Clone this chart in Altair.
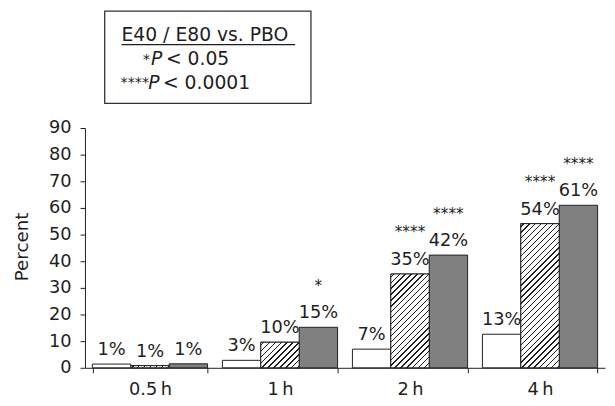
import altair as alt
import pandas as pd

# ---------------- data ----------------
times = ["0.5\u2009h", "1\u2009h", "2\u2009h", "4\u2009h"]
groups = ["PBO", "E40", "E80"]
pbo_values = [1.4, 2.8, 7.0, 12.6]
e40_values = [0.8, 9.6, 35.2, 54.1]
e80_values = [1.5, 15.2, 42.3, 61.0]
pbo_labels = ["1%", "3%", "7%", "13%"]
e40_labels = ["1%", "10%", "35%", "54%"]
e80_labels = ["1%", "15%", "42%", "61%"]
pbo_sig = ["", "", "", ""]
e40_sig = ["", "", "****", "****"]
e80_sig = ["", "*", "****", "****"]
y_ticks = [0, 10, 20, 30, 40, 50, 60, 70, 80, 90]
legend_title = "E40 / E80 vs. PBO"
legend_stars = ["*", "****"]
legend_p = ["P", "P"]
legend_thresholds = ["< 0.05", "< 0.0001"]

rows = []
for g, vals, labs, sigs in [
    ("PBO", pbo_values, pbo_labels, pbo_sig),
    ("E40", e40_values, e40_labels, e40_sig),
    ("E80", e80_values, e80_labels, e80_sig),
]:
    for t, v, l, s in zip(times, vals, labs, sigs):
        rows.append({"time": t, "group": g, "value": v, "label": l, "sig": s})
df = pd.DataFrame(rows)

# ---------------- layout / style ----------------
W, H = 527, 243
Y_MAX = 90
PAD_IN, PAD_OUT = 0.114, 0.057
FONT = "DejaVu Sans"
INK = "#1e1e1e"
GRAY = "#808080"

step = W / (len(times) - PAD_IN + 2 * PAD_OUT)
bar_w = step * (1 - PAD_IN) / len(groups)


def hatch(w, h, period=6.0, lw=1.35):
    """Diagonal '/' hatching as a striped linear gradient (45 degrees on screen)."""
    h = max(h, 0.5)
    total = w + h
    t = total / (w * w + h * h)
    stops = []
    k = 0
    while True:
        c = (k * period + period / 2) / total
        a = max(0.0, c - lw / 2 / total)
        b = min(1.0, c + lw / 2 / total)
        if a >= 1:
            break
        stops += [
            {"offset": round(a, 5), "color": "white"},
            {"offset": round(a, 5), "color": INK},
            {"offset": round(b, 5), "color": INK},
            {"offset": round(b, 5), "color": "white"},
        ]
        k += 1
    return {"gradient": "linear", "x1": 0, "y1": 0,
            "x2": round(w * t, 5), "y2": round(h * t, 5), "stops": stops}


x_enc = alt.X(
    "time:N",
    sort=times,
    scale=alt.Scale(domain=times, paddingInner=PAD_IN, paddingOuter=PAD_OUT),
    axis=alt.Axis(title=None, labelAngle=0, tickBand="extent", tickSize=5,
                  labelPadding=8, labelFontSize=18),
)
xo_enc = alt.XOffset("group:N", sort=groups,
                     scale=alt.Scale(domain=groups, paddingInner=0, paddingOuter=0))
y_enc = alt.Y(
    "value:Q",
    scale=alt.Scale(domain=[0, Y_MAX], nice=False, zero=True),
    axis=alt.Axis(values=y_ticks, title="Percent", tickSize=5, labelPadding=9,
                  labelFontSize=18, titleFontSize=18.5, titleFontWeight="normal",
                  titleAngle=-90, titleX=-64, titleY=120, titleAlign="center",
                  titleBaseline="middle"),
)

base = alt.Chart(df)

bars = base.mark_bar(stroke=INK, strokeWidth=1).encode(
    x=x_enc, xOffset=xo_enc, y=y_enc,
    fill=alt.Fill("group:N", scale=alt.Scale(domain=groups, range=["white", "white", GRAY]),
                  legend=None),
)

hatch_layers = []
for t, v in zip(times, e40_values):
    hatch_layers.append(
        base.transform_filter(
            (alt.datum.group == "E40") & (alt.datum.time == t)
        ).mark_bar(stroke=INK, strokeWidth=1, fill=hatch(bar_w, v * H / Y_MAX)).encode(
            x=x_enc, xOffset=xo_enc, y=y_enc
        )
    )

labels = base.mark_text(font=FONT, fontSize=18, dy=-9, baseline="alphabetic",
                        color=INK).encode(x=x_enc, xOffset=xo_enc, y=y_enc, text="label:N")
stars = base.mark_text(font=FONT, fontSize=15.5, dy=-37, baseline="alphabetic",
                       color=INK).encode(x=x_enc, xOffset=xo_enc, y=y_enc, text="sig:N")

# ---------------- significance key box ----------------
key_df = pd.DataFrame({"k": [0]})
key = alt.Chart(key_df)
box = key.mark_rect(fill=None, stroke="#333333", strokeWidth=1.3).encode(
    x=alt.value(20), x2=alt.value(229), y=alt.value(-118.5), y2=alt.value(-25))
k_title = key.mark_text(font=FONT, fontSize=19, align="left", baseline="alphabetic",
                        color=INK).encode(x=alt.value(37), y=alt.value(-88),
                                          text=alt.value(legend_title))
k_line = key.mark_rule(color=INK, strokeWidth=1.2).encode(
    x=alt.value(37), x2=alt.value(213), y=alt.value(-84.5))
k_star1 = key.mark_text(font=FONT, fontSize=15, align="right", baseline="alphabetic",
                        color=INK).encode(x=alt.value(66), y=alt.value(-65),
                                          text=alt.value(legend_stars[0]))
k_p1 = key.mark_text(font=FONT, fontSize=19, fontStyle="italic", align="left",
                     baseline="alphabetic", color=INK).encode(
    x=alt.value(67), y=alt.value(-64), text=alt.value(legend_p[0]))
k_t1 = key.mark_text(font=FONT, fontSize=19, align="left", baseline="alphabetic",
                     color=INK).encode(x=alt.value(82), y=alt.value(-64),
                                       text=alt.value(legend_thresholds[0]))
k_star2 = key.mark_text(font=FONT, fontSize=14.5, align="left", baseline="alphabetic",
                        color=INK).encode(x=alt.value(36), y=alt.value(-42),
                                          text=alt.value(legend_stars[1]))
k_p2 = key.mark_text(font=FONT, fontSize=19, fontStyle="italic", align="left",
                     baseline="alphabetic", color=INK).encode(
    x=alt.value(64), y=alt.value(-40), text=alt.value(legend_p[1]))
k_t2 = key.mark_text(font=FONT, fontSize=19, align="left", baseline="alphabetic",
                     color=INK).encode(x=alt.value(79), y=alt.value(-40),
                                       text=alt.value(legend_thresholds[1]))

chart = alt.layer(
    bars, *hatch_layers, labels, stars,
    box, k_title, k_line, k_star1, k_p1, k_t1, k_star2, k_p2, k_t2,
).properties(
    width=W, height=H,
    autosize=alt.AutoSizeParams(type="none"),
    padding={"left": 78, "top": 119, "right": 2, "bottom": 28},
    background="white",
).configure_view(stroke=None).configure_axis(
    grid=False, labelFont=FONT, titleFont=FONT, labelColor=INK, titleColor=INK,
    tickColor=INK, domainColor=INK, domainWidth=1, tickWidth=1,
)

chart.save("out.html", embed_options={"renderer": "svg", "actions": False})
